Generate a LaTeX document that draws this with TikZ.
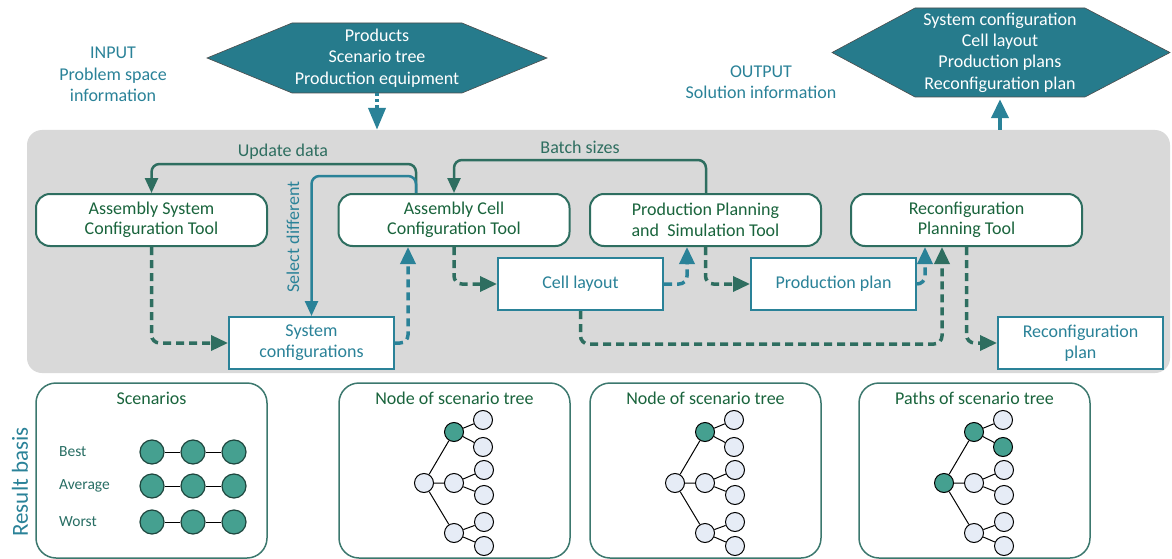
\documentclass[tikz,border=0pt]{standalone}
\usepackage{fontspec}
\setmainfont{Carlito}
\usetikzlibrary{arrows.meta,calc}
\definecolor{hexfill}{RGB}{38,123,140}
\definecolor{tealblue}{RGB}{42,130,152}
\definecolor{dgreen}{RGB}{46,110,96}
\definecolor{txtgreen}{RGB}{25,100,60}
\definecolor{bggray}{RGB}{217,217,217}
\definecolor{nodefill}{RGB}{230,236,246}
\definecolor{scgreen}{RGB}{69,160,144}
\definecolor{scborder}{RGB}{30,70,62}
\definecolor{boxborder}{RGB}{60,120,110}
\definecolor{lblgreen}{RGB}{40,110,100}
\newcommand\fsz[2]{\fontsize{#1}{#2}\selectfont}
\newcommand\drawtree[5]{%
 \node[tn,fill=#3] (#1r) at (#2,483) {};
 \node[tn,fill=#4] (#1a) at ({#2+30},432) {};
 \node[tn] (#1b) at ({#2+30},483) {};
 \node[tn] (#1c) at ({#2+30},533) {};
 \node[tn] (#1a1) at ({#2+59},420) {};
 \node[tn,fill=#5] (#1a2) at ({#2+59},447) {};
 \node[tn] (#1b1) at ({#2+60},470) {};
 \node[tn] (#1b2) at ({#2+60},495) {};
 \node[tn] (#1c1) at ({#2+60},522) {};
 \node[tn] (#1c2) at ({#2+60},546) {};
 \draw[tedge] (#1r)--(#1a) (#1r)--(#1b) (#1r)--(#1c)
   (#1a)--(#1a1) (#1a)--(#1a2) (#1b)--(#1b1) (#1b)--(#1b2)
   (#1c)--(#1c1) (#1c)--(#1c2);
}
\begin{document}
\begin{tikzpicture}[x=1pt,y=-1pt,
  tool/.style={draw=dgreen, line width=2pt, fill=white, rounded corners=14pt,
    minimum width=231pt, minimum height=52pt, inner sep=0pt, align=center,
    text=txtgreen, font=\fsz{18}{20.5}},
  res/.style={draw=tealblue, line width=2pt, fill=white, minimum width=165pt,
    minimum height=52pt, inner sep=0pt, align=center, text=tealblue, font=\fsz{18}{21}},
  rbox/.style={draw=boxborder, line width=1.5pt, fill=white, rounded corners=20pt,
    minimum width=231pt, minimum height=175pt, inner sep=0pt},
  lbl/.style={text=tealblue, font=\fsz{18}{21.5}, align=center, inner sep=0pt},
  flbl/.style={text=dgreen, font=\fsz{18}{21}, inner sep=0pt},
  ttl/.style={text=txtgreen, font=\fsz{18}{21}, inner sep=0pt},
  solidg/.style={draw=dgreen, line width=2.5pt, rounded corners=8pt, -{Triangle[length=15pt,width=13pt]}},
  solidb/.style={draw=tealblue, line width=2.5pt, rounded corners=8pt, -{Triangle[length=15pt,width=13pt]}},
  dashg/.style={draw=dgreen, line width=3.5pt, dash pattern=on 8pt off 5pt, rounded corners=8pt, -{Triangle[length=17pt,width=15pt]}},
  dashb/.style={draw=tealblue, line width=3.5pt, dash pattern=on 8pt off 5pt, rounded corners=8pt, -{Triangle[length=17pt,width=15pt]}},
  tn/.style={circle, draw=black, line width=1pt, fill=nodefill, minimum size=19pt, inner sep=0pt},
  tedge/.style={draw=black, line width=1pt},
  sc/.style={circle, draw=scborder, line width=1.2pt, fill=scgreen, minimum size=24pt, inner sep=0pt},
  sclbl/.style={text=lblgreen, font=\fsz{15.5}{18}, anchor=west, inner sep=0pt}
]
\useasboundingbox (0,0) rectangle (1172,559);

% gray background
\node[fill=bggray, rounded corners=15pt, minimum width=1143pt, minimum height=243pt, inner sep=0pt] (bg) at (598.5,251.5) {};

% input hexagon
\fill[hexfill, draw=black!70, line width=0.6pt] (207,58) -- (292,23) -- (462,23) -- (547,58) -- (462,93) -- (292,93) -- cycle;
\node[text=white, font=\fsz{18}{21.5}, align=center, minimum height=70pt, inner sep=0pt] (hexin) at (377,58) {Products\\Scenario tree\\Production equipment};
% output hexagon
\fill[hexfill, draw=black!70, line width=0.6pt] (832,52.5) -- (915,8) -- (1085,8) -- (1170,52.5) -- (1085,97) -- (915,97) -- cycle;
\node[text=white, font=\fsz{18}{21.3}, align=center, minimum height=89pt, inner sep=0pt] (hexout) at (1000,52.5) {System configuration\\Cell layout\\Production plans\\Reconfiguration plan};

\node[lbl] (inlbl) at (113,74.5) {INPUT\\Problem space\\information};
\node[lbl] (outlbl) at (761,82) {OUTPUT\\Solution information};

% input / output arrows
\draw[draw=tealblue, line width=4pt, dash pattern=on 3pt off 3pt, -{Triangle[length=22pt,width=17pt]}] (hexin.south) -- (hexin.south |- bg.north);
\draw[draw=tealblue, line width=4pt, -{Triangle[length=19pt,width=17pt]}] (hexout.south |- bg.north) -- ([yshift=-2pt]hexout.south);

% tools
\node[tool] (asct) at (151.5,220) {Assembly System\\Configuration Tool};
\node[tool] (acct) at (454,220) {Assembly Cell\\Configuration Tool};
\node[tool] (ppst) at (705.5,220) {Production Planning\\and\ \ Simulation Tool};
\node[tool] (rpt) at (966.5,220) {Reconfiguration\\Planning Tool};

% results
\node[res] (sysc) at (311.5,343) {System\\configurations};
\node[res] (cell) at (580.5,284) {Cell layout};
\node[res] (pplan) at (833.5,284) {Production plan};
\node[res] (rplan) at (1080.5,343) {Reconfiguration\\plan};

% feedback connectors
\draw[solidg] ([xshift=-38pt]acct.north) -- ++(0,-29) -| (asct.north);
\draw[solidb] ([xshift=-38pt]acct.north) -- ++(0,-17) -| (sysc.north);
\draw[solidg] ([xshift=0.5pt]ppst.north) -- ++(0,-33) -| (acct.north);
\node[flbl] (upd) at (283,152) {Update data};
\node[flbl] (bat) at (580,147) {Batch sizes};
\node[text=tealblue, font=\fsz{18}{21}, inner sep=0pt, rotate=90] (seld) at (293,237) {Select different};

% dashed flow
\draw[dashg] (asct.south) |- (sysc.west);
\draw[dashb] (sysc.east) -| ([xshift=-46pt]acct.south);
\draw[dashg] (acct.south) |- (cell.west);
\draw[dashb] (cell.east) -| ([xshift=-18.5pt]ppst.south);
\draw[dashg] (ppst.south) |- (pplan.west);
\draw[dashb] (pplan.east) -| ([xshift=-41.5pt]rpt.south);
\draw[dashg] (cell.south) -- ++(0,33) -| ([xshift=-24.5pt]rpt.south);
\draw[dashg] (rpt.south) |- (rplan.west);

% result basis
\node[text=tealblue, font=\fsz{23}{26}, rotate=90, inner sep=0pt] (rb) at (20,482) {Result basis};
\node[rbox] (b1) at (151.5,470.5) {};
\node[rbox] (b2) at (454.5,470.5) {};
\node[rbox] (b3) at (705.5,470.5) {};
\node[rbox] (b4) at (974.5,470.5) {};
\node[ttl] (t1) at (151.5,398) {Scenarios};
\node[ttl] (t2) at (454.5,398) {Node of scenario tree};
\node[ttl] (t3) at (705.5,398) {Node of scenario tree};
\node[ttl] (t4) at (974.5,398) {Paths of scenario tree};

% scenarios
\node[sclbl] (lb) at (59,452) {Best};
\node[sclbl] (la) at (59,486) {Average};
\node[sclbl] (lw) at (59,522) {Worst};
\foreach \r/\y in {1/452,2/486,3/522}{
  \node[sc] (s\r1) at (152,\y) {};
  \node[sc] (s\r2) at (193,\y) {};
  \node[sc] (s\r3) at (234,\y) {};
  \draw[line width=1pt] (s\r1) -- (s\r2) (s\r2) -- (s\r3);
}

% trees
\drawtree{p}{424}{nodefill}{scgreen}{nodefill}
\drawtree{q}{675}{nodefill}{scgreen}{nodefill}
\drawtree{w}{944}{scgreen}{scgreen}{scgreen}
\end{tikzpicture}
\end{document}
